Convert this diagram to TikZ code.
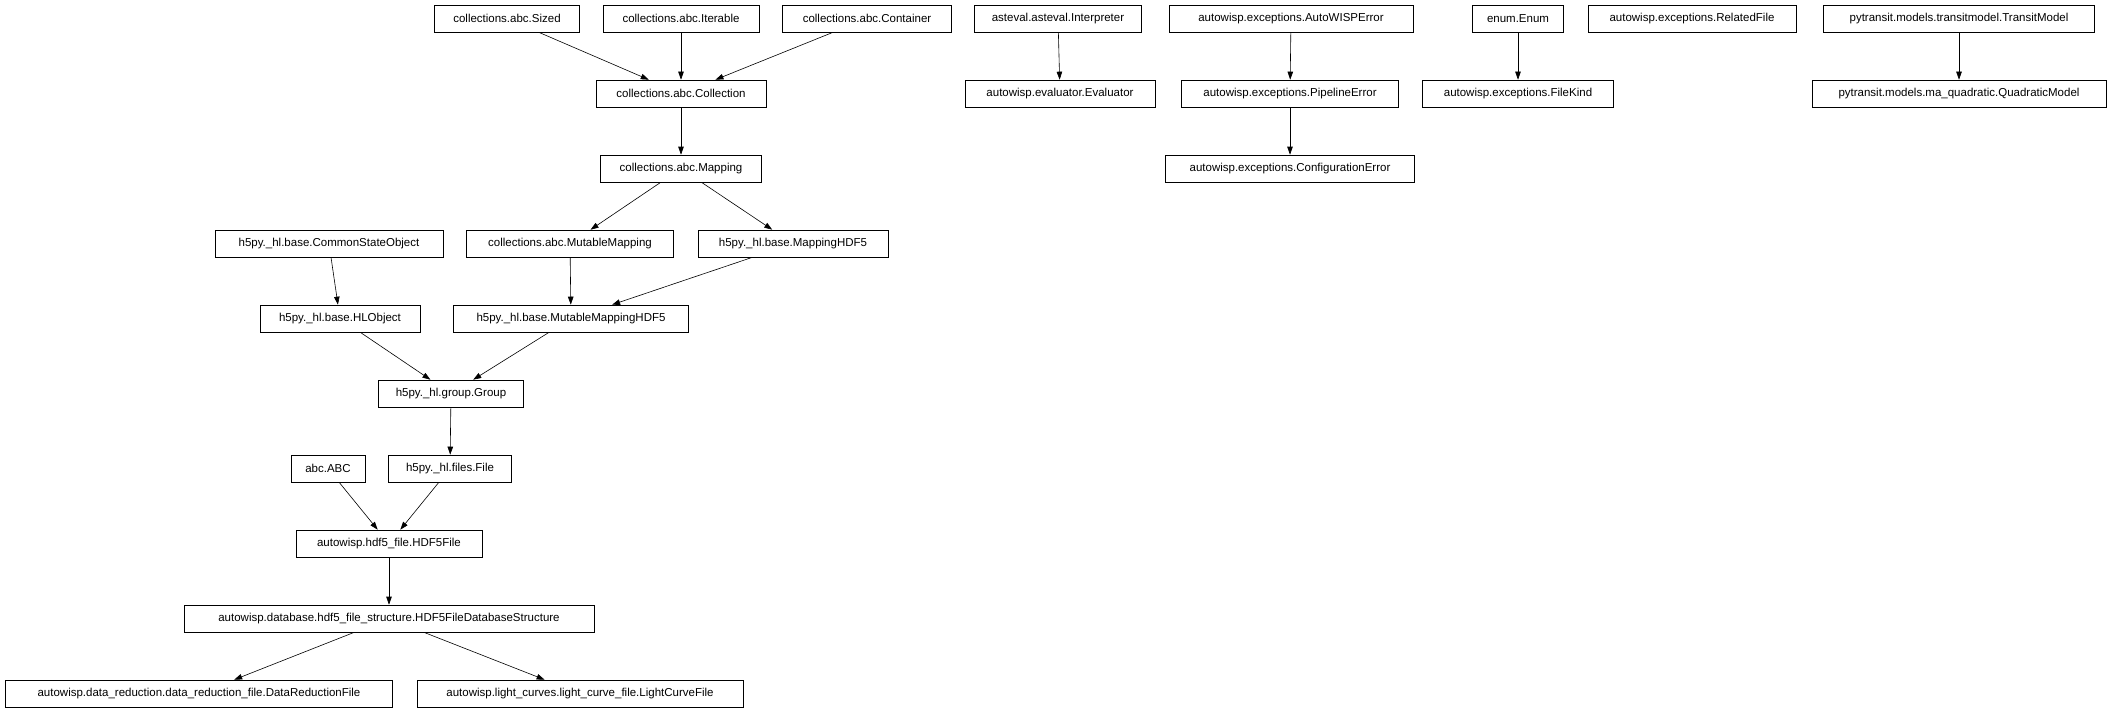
\documentclass[tikz,border=0pt]{standalone}
\usepackage{fontspec}
\setmainfont{Liberation Sans}
\usetikzlibrary{arrows.meta}
\begin{document}
\begin{tikzpicture}[x=1pt,y=-1pt,
  box/.style={draw, line width=0.8pt, minimum height=27pt, inner sep=2pt, font=\fontsize{11.5}{13}\selectfont},
  arr/.style={-{Triangle[length=8pt,width=5.5pt]}, line width=0.6pt}]
\useasboundingbox (0,0) rectangle (2112,709);
\def\ry#1{18.6+75*#1}
\node[box,minimum width=145] (sized) at (507,{\ry{0}}) {collections.abc.Sized};
\node[box,minimum width=156] (iter) at (681,{\ry{0}}) {collections.abc.Iterable};
\node[box,minimum width=169] (cont) at (867,{\ry{0}}) {collections.abc.Container};
\node[box,minimum width=170] (coll) at (681,{\ry{1}}) {collections.abc.Collection};
\node[box,minimum width=161] (map) at (681,{\ry{2}}) {collections.abc.Mapping};
\node[box,minimum width=228] (cso) at (329,{\ry{3}}) {h5py.\_hl.base.CommonStateObject};
\node[box,minimum width=207] (mm) at (570,{\ry{3}}) {collections.abc.MutableMapping};
\node[box,minimum width=190] (mh) at (793,{\ry{3}}) {h5py.\_hl.base.MappingHDF5};
\node[box,minimum width=160] (hlo) at (340,{\ry{4}}) {h5py.\_hl.base.HLObject};
\node[box,minimum width=235] (mmh) at (571,{\ry{4}}) {h5py.\_hl.base.MutableMappingHDF5};
\node[box,minimum width=145] (grp) at (451,{\ry{5}}) {h5py.\_hl.group.Group};
\node[box,minimum width=74] (abc) at (328,{\ry{6}}) {abc.ABC};
\node[box,minimum width=123] (file) at (450,{\ry{6}}) {h5py.\_hl.files.File};
\node[box,minimum width=186] (h5f) at (389,{\ry{7}}) {autowisp.hdf5\_file.HDF5File};
\node[box,minimum width=410] (dbs) at (389,{\ry{8}}) {autowisp.database.hdf5\_file\_structure.HDF5FileDatabaseStructure};
\node[box,minimum width=387] (drf) at (199,{\ry{9}}) {autowisp.data\_reduction.data\_reduction\_file.DataReductionFile};
\node[box,minimum width=326] (lcf) at (580,{\ry{9}}) {autowisp.light\_curves.light\_curve\_file.LightCurveFile};
\node[box,minimum width=167] (interp) at (1058,{\ry{0}}) {asteval.asteval.Interpreter};
\node[box,minimum width=190] (eval) at (1060,{\ry{1}}) {autowisp.evaluator.Evaluator};
\node[box,minimum width=244] (awe) at (1291,{\ry{0}}) {autowisp.exceptions.AutoWISPError};
\node[box,minimum width=217] (pe) at (1290,{\ry{1}}) {autowisp.exceptions.PipelineError};
\node[box,minimum width=249] (ce) at (1290,{\ry{2}}) {autowisp.exceptions.ConfigurationError};
\node[box,minimum width=91] (enum) at (1518,{\ry{0}}) {enum.Enum};
\node[box,minimum width=191] (fk) at (1518,{\ry{1}}) {autowisp.exceptions.FileKind};
\node[box,minimum width=208] (rf) at (1692,{\ry{0}}) {autowisp.exceptions.RelatedFile};
\node[box,minimum width=271] (tm) at (1959,{\ry{0}}) {pytransit.models.transitmodel.TransitModel};
\node[box,minimum width=294] (qm) at (1959,{\ry{1}}) {pytransit.models.ma\_quadratic.QuadraticModel};
\draw[arr] (sized) -- (coll);
\draw[arr] (iter) -- (coll);
\draw[arr] (cont) -- (coll);
\draw[arr] (coll) -- (map);
\draw[arr] (map) -- (mm);
\draw[arr] (map) -- (mh);
\draw[arr] (cso) -- (hlo);
\draw[arr] (mm) -- (mmh);
\draw[arr] (mh) -- (mmh);
\draw[arr] (hlo) -- (grp);
\draw[arr] (mmh) -- (grp);
\draw[arr] (grp) -- (file);
\draw[arr] (abc) -- (h5f);
\draw[arr] (file) -- (h5f);
\draw[arr] (h5f) -- (dbs);
\draw[arr] (dbs) -- (drf);
\draw[arr] (dbs) -- (lcf);
\draw[arr] (interp) -- (eval);
\draw[arr] (awe) -- (pe);
\draw[arr] (pe) -- (ce);
\draw[arr] (enum) -- (fk);
\draw[arr] (tm) -- (qm);
\end{tikzpicture}
\end{document}
